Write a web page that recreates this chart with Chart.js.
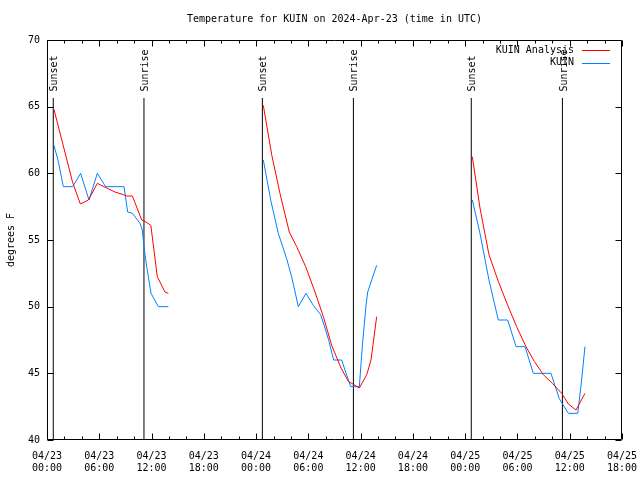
<!DOCTYPE html>
<html><head><meta charset="utf-8">
<script src="https://cdn.jsdelivr.net/npm/chart.js@4"></script>
<style>html,body{margin:0;padding:0;background:#fff;} canvas{display:block;}</style>
</head><body>
<canvas id="c" width="640" height="480"></canvas>
<script>
const titleText = 'Temperature for KUIN on 2024-Apr-23 (time in UTC)';
const yAxisTitle = 'degrees F';
const seriesNames = ['KUIN Analysis', 'KUIN'];
const seriesColors = ['#ff0000', '#0080ff'];
const xTickDates = ['04/23', '04/24', '04/25'];
const yMin = 40, yMax = 70;

// hours since 2024-04-23 00:00 UTC; null separates nights
const analysisHours = [0.80, 2.95, 3.83, 4.75, 5.78, 6.85, 7.8, 8.76, 9.14, 9.8, 10.87, 11.25, 11.92, 12.66, 13.54, 13.93, null,
  24.83, 25.79, 26.74, 27.81, 28.66, 29.69, 30.76, 31.72, 32.68, 33.75, 34.59, 35.35, 35.85, 36.7, 37.19, 37.84, null,
  48.82, 49.7, 50.73, 51.8, 52.88, 53.91, 54.98, 55.93, 56.97, 58.0, 59.08, 59.84, 60.72, 61.75];
const analysisTemps = [64.8, 59.3, 57.7, 58.0, 59.25, 58.9, 58.6, 58.4, 58.3, 58.3, 56.5, 56.4, 56.1, 52.25, 51.1, 51.0, null,
  65.1, 61.4, 58.5, 55.6, 54.5, 53.0, 51.1, 49.25, 47.1, 45.4, 44.4, 44.1, 43.9, 44.9, 46.0, 49.25, null,
  61.25, 57.4, 53.9, 51.9, 50.1, 48.5, 47.0, 45.9, 44.9, 44.25, 43.5, 42.7, 42.25, 43.5];
const kuinHours = [0.80, 1.3, 1.87, 2.95, 3.86, 4.82, 5.78, 6.73, 8.84, 9.26, 9.8, 10.68, 10.94, 11.13, 11.44, 11.94, 12.78, 13.93, null,
  24.83, 25.71, 26.55, 27.51, 28.08, 28.85, 29.73, 30.57, 31.41, 31.91, 32.37, 32.9, 33.82, 34.28, 34.86, 35.85, 36.2, 36.62, 36.81, 37.84, null,
  48.82, 49.7, 50.73, 51.8, 52.88, 53.84, 54.87, 55.82, 57.85, 58.3, 58.8, 59.84, 60.92, 61.3, 61.75];
const kuinTemps = [62.1, 60.9, 59, 59, 60, 58, 60, 59, 59, 57.1, 57, 56.25, 55.75, 54.5, 53.0, 51.0, 50.0, 50.0, null,
  61.0, 57.9, 55.5, 53.6, 52.25, 50, 51, 50.1, 49.4, 48.4, 47.4, 46, 46, 45.1, 44, 44, 47.1, 50.1, 51.1, 53.1, null,
  58.0, 55.5, 52.0, 49, 49, 47, 47, 45, 45, 44.1, 43.1, 42, 42, 44.1, 47];

const eventHours = [0.72, 11.13, 24.72, 35.17, 48.7, 59.16];
const eventLabels = ['Sunset', 'Sunrise', 'Sunset', 'Sunrise', 'Sunset', 'Sunrise'];
const eventTop = 65.65;

const FONT = '10px "DejaVu Sans Mono"';

function pts(hs, ts) {
  return hs.map((h, i) => h === null ? {x: NaN, y: null} : {x: h, y: ts[i]});
}
const eventPts = [];
eventHours.forEach(h => { eventPts.push({x: h, y: yMin}, {x: h, y: eventTop}, {x: h, y: null}); });

const framePlugin = {
  id: 'frame',
  afterDraw(chart) {
    const ctx = chart.ctx, a = chart.chartArea;
    const xs = chart.scales.x, ys = chart.scales.y;
    ctx.save();
    ctx.strokeStyle = '#000'; ctx.lineWidth = 1;
    const L = Math.round(a.left) + 0.5, R = Math.round(a.right) - 0.5, T = Math.round(a.top) + 0.5, B = Math.round(a.bottom) - 0.5;
    ctx.beginPath();
    ctx.rect(L, T, R - L, B - T);
    // x ticks
    for (let v = xs.min; v <= xs.max + 1e-9; v += 2) {
      const major = Math.abs(v % 6) < 1e-9;
      const len = major ? 6 : 3;
      const px = Math.round(xs.getPixelForValue(v)) + 0.5;
      ctx.moveTo(px, B); ctx.lineTo(px, B - len);
      ctx.moveTo(px, T); ctx.lineTo(px, T + len);
    }
    ys.ticks.forEach(t => {
      const py = Math.round(ys.getPixelForValue(t.value)) + 0.5;
      ctx.moveTo(L, py); ctx.lineTo(L + 6, py);
      ctx.moveTo(R, py); ctx.lineTo(R - 6, py);
    });
    ctx.stroke();

    ctx.fillStyle = '#000';
    ctx.font = FONT;
    // event labels
    eventHours.forEach((h, i) => {
      const px = xs.getPixelForValue(h), py = ys.getPixelForValue(eventTop);
      ctx.save();
      ctx.translate(px + 1.5, py - 6.5);
      ctx.rotate(-Math.PI / 2);
      ctx.textAlign = 'left'; ctx.textBaseline = 'middle';
      ctx.fillText(eventLabels[i], 0, 0);
      ctx.restore();
    });
    // title
    ctx.textAlign = 'center'; ctx.textBaseline = 'middle';
    ctx.fillText(titleText, (a.left + a.right) / 2, 19);
    // y axis title
    ctx.save();
    ctx.translate(11, (a.top + a.bottom) / 2);
    ctx.rotate(-Math.PI / 2);
    ctx.fillText(yAxisTitle, 0, 0);
    ctx.restore();
    // legend
    seriesNames.forEach((n, i) => {
      const y = a.top + 10 + i * 12.5;
      ctx.textAlign = 'right'; ctx.textBaseline = 'middle';
      ctx.fillStyle = '#000';
      ctx.fillText(n, a.right - 48, y);
      ctx.strokeStyle = seriesColors[i];
      ctx.beginPath();
      ctx.moveTo(a.right - 40, Math.round(y) + 0.5);
      ctx.lineTo(a.right - 12, Math.round(y) + 0.5);
      ctx.stroke();
    });
    ctx.restore();
  }
};

new Chart(document.getElementById('c'), {
  type: 'line',
  data: {
    datasets: [
      {label: seriesNames[0], data: pts(analysisHours, analysisTemps), borderColor: seriesColors[0], borderWidth: 1, pointRadius: 0, tension: 0, spanGaps: false},
      {label: seriesNames[1], data: pts(kuinHours, kuinTemps), borderColor: seriesColors[1], borderWidth: 1, pointRadius: 0, tension: 0, spanGaps: false},
      {label: 'events', data: eventPts, borderColor: '#000', borderWidth: 1, pointRadius: 0, spanGaps: false}
    ]
  },
  options: {
    responsive: false,
    animation: false,
    devicePixelRatio: 1,
    layout: {padding: {left: 0, right: 18, top: 40, bottom: 0}},
    plugins: {legend: {display: false}, title: {display: false}, tooltip: {enabled: false}},
    scales: {
      x: {
        type: 'linear', min: 0, max: 66,
        grid: {display: false, drawTicks: false},
        border: {display: false},
        afterFit: s => { s.height = 40; s.paddingLeft = 0; s.paddingRight = 0; },
        ticks: {
          stepSize: 6, autoSkip: false, maxRotation: 0, minRotation: 0, padding: 10, color: '#000',
          font: {family: 'DejaVu Sans Mono', size: 10, lineHeight: 1.23},
          callback: v => {
            const d = xTickDates[Math.floor(v / 24)];
            const hh = String(v % 24).padStart(2, '0');
            return [d, hh + ':00'];
          }
        }
      },
      y: {
        type: 'linear', min: yMin, max: yMax,
        grid: {display: false, drawTicks: false},
        border: {display: false},
        afterFit: s => { s.width = 47; s.paddingTop = 0; s.paddingBottom = 0; },
        ticks: {stepSize: 5, padding: 7, color: '#000', font: {family: 'DejaVu Sans Mono', size: 10}}
      }
    }
  },
  plugins: [framePlugin]
});
</script>
</body></html>
